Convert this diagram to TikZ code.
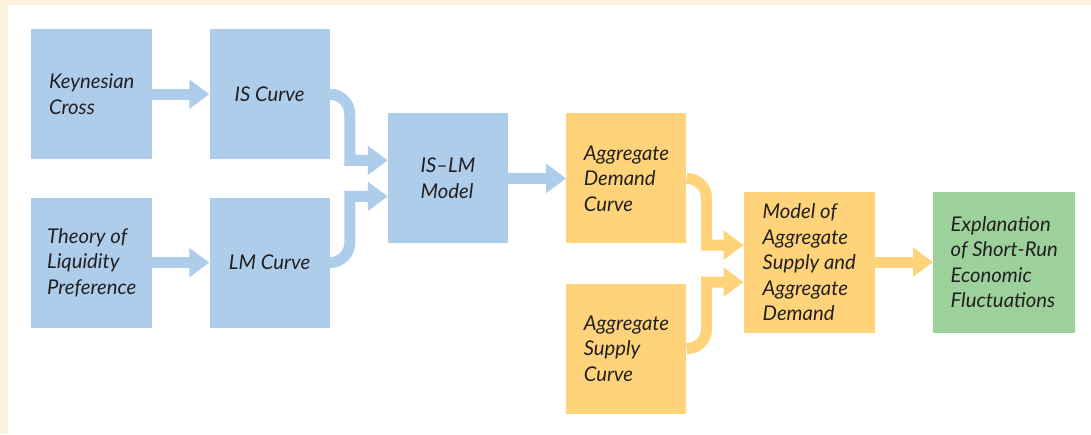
\documentclass[tikz,border=0pt]{standalone}
\usepackage{fontspec}
\setmainfont{Lato}
\usetikzlibrary{arrows.meta,positioning,calc}
\definecolor{cream}{RGB}{253,242,222}
\definecolor{skyblue}{RGB}{174,205,235}
\definecolor{sand}{RGB}{254,211,122}
\definecolor{sage}{RGB}{157,209,155}
\definecolor{ink}{RGB}{35,31,32}
\tikzset{
  box/.style={rectangle,inner sep=0pt,minimum width=120pt,minimum height=130pt,align=left,
              font=\fontsize{20.3}{25.5}\selectfont\itshape,text=ink},
  bbox/.style={box,fill=skyblue},
  obox/.style={box,fill=sand},
  gbox/.style={box,fill=sage,minimum width=142pt,minimum height=141pt},
  flow/.style={-{Triangle[length=20pt,width=28pt]},line width=11pt},
  flowb/.style={flow,draw=skyblue},
  flowo/.style={flow,draw=sand},
}
\begin{document}
\begin{tikzpicture}
  \useasboundingbox (0,0) rectangle (1091pt,-434pt);
  \fill[cream] (0,0) rectangle (1091pt,-434pt);
  \fill[white] (8pt,-5pt) rectangle (1091pt,-434pt);

  \node[bbox,minimum width=121pt,anchor=north west] (kc) at (31pt,-29pt) {Keynesian\\Cross};
  \node[bbox,right=57pt of kc] (iscurve) {IS Curve};
  \node[bbox,minimum width=121pt,below=38pt of kc] (tlp) {Theory of\\Liquidity\\Preference};
  \node[bbox,right=57pt of tlp] (lmcurve) {LM Curve};
  \node[bbox,anchor=west] (islm) at ($(iscurve.east)!0.5!(lmcurve.east)+(58pt,0)$) {IS--LM\\Model};
  \node[obox,right=58pt of islm] (adcurve) {Aggregate\\Demand\\Curve};
  \node[obox,below=40pt of adcurve] (ascurve) {Aggregate\\Supply\\Curve};
  \node[obox,minimum width=131pt,minimum height=141pt,anchor=west] (asad)
     at ($(adcurve.east)!0.5!(ascurve.east)+(57pt,1.5pt)$) {Model of\\Aggregate\\Supply and\\Aggregate\\Demand};
  \node[gbox,right=58pt of asad] (expl) {Explanation\\of Short-Run\\Economic\\Fluctuations};

  \draw[flowb] (kc) -- (iscurve);
  \draw[flowb] (tlp) -- (lmcurve);
  \draw[flowb] (iscurve.east) arc[start angle=90,end angle=0,radius=20pt] |- ($(islm.west)+(0,18pt)$);
  \draw[flowb] (lmcurve.east) arc[start angle=-90,end angle=0,radius=20pt] |- ($(islm.west)+(0,-18pt)$);
  \draw[flowb] (islm) -- (adcurve);
  \draw[flowo] (adcurve.east) arc[start angle=90,end angle=0,radius=20pt] |- ($(asad.west)+(0,17pt)$);
  \draw[flowo] (ascurve.east) arc[start angle=-90,end angle=0,radius=20pt] |- ($(asad.west)+(0,-20pt)$);
  \draw[flowo] (asad) -- (expl);
\end{tikzpicture}
\end{document}
